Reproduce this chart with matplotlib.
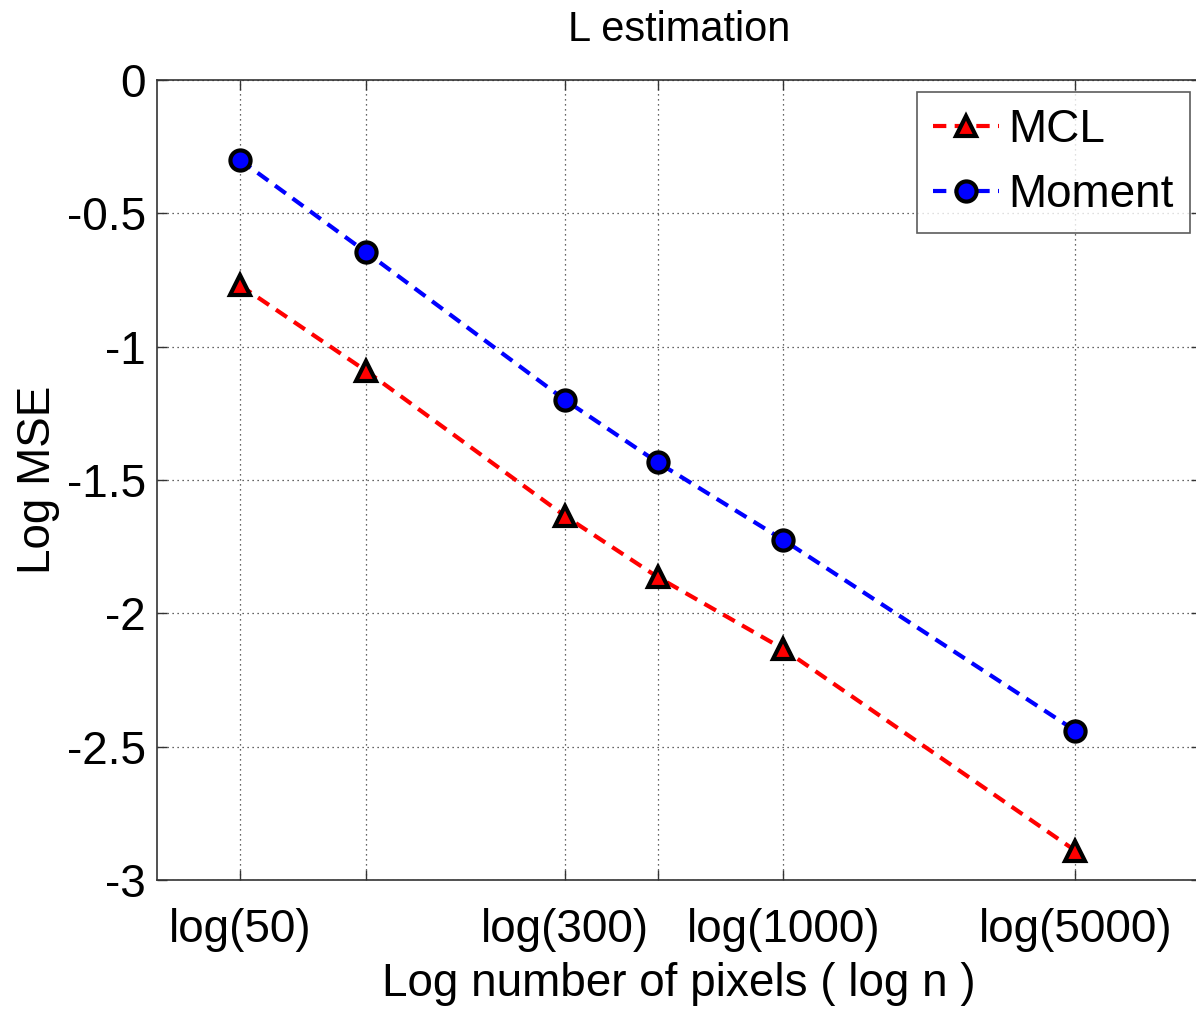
import numpy as np
import matplotlib
matplotlib.use("Agg")
import matplotlib.pyplot as plt

# Data
n_pixels = [50, 100, 300, 500, 1000, 5000]
tick_labels = ["log(50)", "", "log(300)", "", "log(1000)", "log(5000)"]
mcl = [-0.77, -1.09, -1.635, -1.864, -2.134, -2.89]
moment = [-0.30, -0.645, -1.20, -1.434, -1.725, -2.44]

plt.rcParams['font.family'] = ['Liberation Sans', 'DejaVu Sans']

W, H = 1196, 1010
fig = plt.figure(figsize=(W / 100, H / 100), dpi=100)
left, right, top, bottom = 157, 1201, 80, 880
ax = fig.add_axes([left / W, (H - bottom) / H, (right - left) / W, (bottom - top) / H])

x = np.log10(n_pixels)
ax.plot(x, mcl, color='red', linestyle=(0, (3.2, 2.0)), linewidth=3.0,
        marker='^', markersize=15, markerfacecolor='red', markeredgecolor='black',
        markeredgewidth=3, label='MCL')
ax.plot(x, moment, color='blue', linestyle=(0, (3.2, 2.0)), linewidth=3.0,
        marker='o', markersize=14.5, markerfacecolor='blue', markeredgecolor='black',
        markeredgewidth=3, label='Moment')

ax.set_xlim(1.5, 4.0)
ax.set_ylim(-3, 0)
ax.set_xticks(x)
ax.set_xticklabels(tick_labels)
ax.set_yticks([0, -0.5, -1, -1.5, -2, -2.5, -3])
ax.set_yticklabels(['0', '-0.5', '-1', '-1.5', '-2', '-2.5', '-3'])
ax.tick_params(direction='in', length=7, width=1, labelsize=33, top=True, right=True,
               color='#333333', pad=8)
ax.tick_params(axis='x', pad=20)
ax.grid(True, linestyle=(0, (1, 3)), color='#333333', linewidth=0.9)
for s in ax.spines.values():
    s.set_linewidth(1.2)
    s.set_color('#333333')

ax.set_title('L estimation', fontsize=30, pad=28)
ax.set_xlabel('Log number of pixels ( log n )', fontsize=33, labelpad=7)
ax.set_ylabel('Log MSE', fontsize=33, labelpad=5)

leg = ax.legend(loc='upper right', bbox_to_anchor=((1190 - left) / (right - left), 1 - (92 - top) / (bottom - top)),
                fontsize=33, frameon=True, fancybox=False, edgecolor='#333333',
                handlelength=1.45, handletextpad=0.2, borderpad=0.35, labelspacing=0.45,
                borderaxespad=0)
leg.get_frame().set_linewidth(1.2)

fig.savefig('out.png', dpi=100)
